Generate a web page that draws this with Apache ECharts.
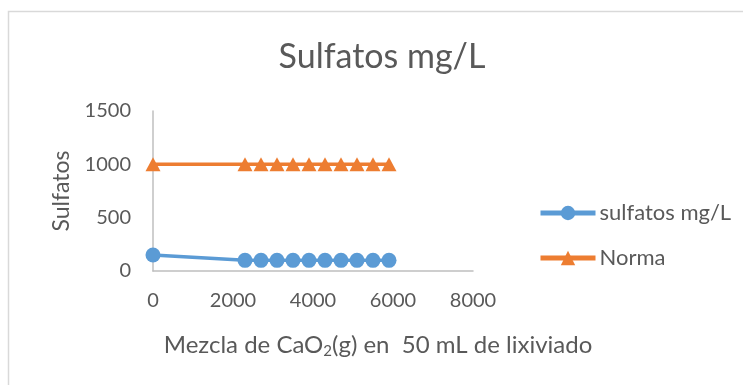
<!DOCTYPE html>
<html>
<head>
<meta charset="utf-8">
<script src="https://cdn.jsdelivr.net/npm/echarts@6/dist/echarts.min.js"></script>
<style>
  html, body { margin: 0; padding: 0; background: #ffffff; }
  #chart { width: 743px; height: 385px; }
</style>
</head>
<body>
<div id="chart"></div>
<script>
// Dosis de la mezcla de CaO2 (g) y concentración de sulfatos medida (mg/L)
const mezclaCaO2 = [0, 2300, 2700, 3100, 3500, 3900, 4300, 4700, 5100, 5500, 5900];
const sulfatosMgL = [150, 100, 100, 100, 100, 100, 100, 100, 100, 100, 100];
const normaMgL = [1000, 1000, 1000, 1000, 1000, 1000, 1000, 1000, 1000, 1000, 1000];
const seriesNames = ['sulfatos mg/L', 'Norma'];
const xTicks = [0, 2000, 4000, 6000, 8000];
const yTicks = [0, 500, 1000, 1500];

const FONT = 'Lato, "Open Sans", sans-serif';
const TEXT = '#595959';
const AXIS = '#bfbfbf';

const pairs = (xs, ys) => xs.map((x, i) => [x, ys[i]]);
const plain = (v) => String(v);

const chart = echarts.init(document.getElementById('chart'), null, { renderer: 'canvas' });

chart.setOption({
  backgroundColor: '#ffffff',
  animation: false,
  textStyle: { fontFamily: FONT, color: TEXT },
  graphic: [{
    type: 'rect',
    silent: true,
    shape: { x: 8.5, y: 11.5, width: 800, height: 400 },
    style: { fill: 'none', stroke: '#d9d9d9', lineWidth: 1.5 }
  }],
  title: [{
    text: 'Sulfatos mg/L',
    left: 377,
    textAlign: 'center',
    top: 35,
    textStyle: { fontFamily: FONT, fontSize: 34, fontWeight: 'normal', color: TEXT }
  }, {
    text: '{t|Mezcla de CaO}{s|2}{t|(g) en  50 mL de lixiviado}',
    left: 373,
    textAlign: 'center',
    top: 326,
    textStyle: {
      fontWeight: 'normal',
      rich: {
        t: { fontFamily: FONT, fontSize: 24, fontWeight: 'normal', color: TEXT },
        s: { fontFamily: FONT, fontSize: 15, fontWeight: 'normal', color: TEXT, padding: [13, 0, 0, 0] }
      }
    }
  }],
  legend: {
    orient: 'vertical',
    left: 538,
    top: 202,
    padding: 0,
    itemWidth: 55,
    itemHeight: 18,
    itemGap: 23,
    data: seriesNames,
    lineStyle: { width: 5 },
    textStyle: { fontFamily: FONT, fontSize: 22, color: TEXT, padding: [0, 0, 0, -1] }
  },
  grid: { left: 153, top: 111, right: 270, bottom: 114, containLabel: false },
  xAxis: {
    type: 'value',
    min: xTicks[0],
    max: xTicks[xTicks.length - 1],
    interval: xTicks[1] - xTicks[0],
    axisLine: { show: true, onZero: false, lineStyle: { color: AXIS, width: 1.5 } },
    axisTick: { show: false },
    splitLine: { show: false },
    axisLabel: { margin: 20, formatter: plain, fontFamily: FONT, fontSize: 20, color: TEXT }
  },
  yAxis: {
    type: 'value',
    min: yTicks[0],
    max: yTicks[yTicks.length - 1],
    interval: yTicks[1] - yTicks[0],
    name: 'Sulfatos',
    nameLocation: 'middle',
    nameGap: 80,
    nameTextStyle: { fontFamily: FONT, fontSize: 23, color: TEXT },
    axisLine: { show: true, lineStyle: { color: AXIS, width: 1.5 } },
    axisTick: { show: false },
    splitLine: { show: false },
    axisLabel: { margin: 22, formatter: plain, fontFamily: FONT, fontSize: 20, color: TEXT }
  },
  series: [{
    name: seriesNames[0],
    type: 'line',
    data: pairs(mezclaCaO2, sulfatosMgL),
    symbol: 'circle',
    symbolSize: 15,
    lineStyle: { color: '#5b9bd5', width: 3.5 },
    itemStyle: { color: '#5b9bd5' },
    z: 3
  }, {
    name: seriesNames[1],
    type: 'line',
    data: pairs(mezclaCaO2, normaMgL),
    symbol: 'triangle',
    symbolSize: [15, 14],
    lineStyle: { color: '#ed7d31', width: 3.5 },
    itemStyle: { color: '#ed7d31' },
    z: 2
  }]
});
</script>
</body>
</html>
